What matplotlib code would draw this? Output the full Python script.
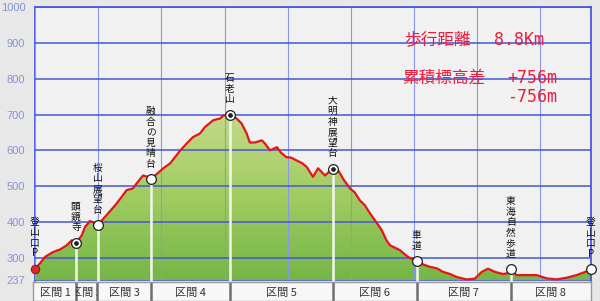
import numpy as np
import matplotlib.pyplot as plt
from matplotlib.patches import Rectangle
from matplotlib.colors import LinearSegmentedColormap

plt.rcParams['font.family'] = ['Noto Sans CJK JP', 'DejaVu Sans']

# profile: distance (km) / elevation (m)
dist = [0.00, 0.08, 0.16, 0.28, 0.40, 0.50, 0.58, 0.65, 0.74, 0.79, 0.87, 0.95, 0.99,
        1.13, 1.27, 1.37, 1.45, 1.55, 1.61, 1.71, 1.79, 1.83, 2.03, 2.14, 2.30, 2.40,
        2.50, 2.61, 2.69, 2.82, 2.93, 2.98, 3.08, 3.19, 3.27, 3.35, 3.40, 3.48, 3.59,
        3.64, 3.72, 3.83, 3.89, 3.98, 4.05, 4.14, 4.23, 4.30, 4.40, 4.48, 4.59, 4.71,
        4.80, 4.89, 4.99, 5.06, 5.14, 5.22, 5.30, 5.40, 5.49, 5.56, 5.62, 5.75, 5.78,
        5.90, 6.04, 6.14, 6.25, 6.36, 6.46, 6.57, 6.67, 6.83, 6.96, 7.07, 7.17, 7.28,
        7.41, 7.47, 7.53, 7.62, 7.78, 7.94, 8.10, 8.26, 8.42, 8.57, 8.71, 8.80]
elev = [270, 285, 303, 316, 324, 335, 349, 342, 363, 386, 403, 397, 391,
        419, 447, 470, 489, 494, 508, 530, 526, 519, 550, 564, 600, 619,
        637, 647, 665, 684, 689, 697, 700, 689, 675, 647, 622, 622, 628,
        619, 600, 609, 594, 581, 580, 572, 564, 554, 526, 550, 530, 549,
        544, 517, 493, 483, 461, 447, 425, 400, 377, 350, 335, 324, 321,
        303, 291, 282, 275, 271, 261, 255, 247, 240, 242, 261, 270, 261,
        255, 257, 268, 252, 252, 252, 243, 240, 245, 252, 261, 268]

# waypoints
wp_names = ['登山口P', '顕鏡寺', '桜山展望台', '融合の見晴台', '石老山',
            '大明神展望台', '車道', '東海自然歩道', '登山口P']
wp_dist = [0.00, 0.65, 0.99, 1.83, 3.08, 4.71, 6.04, 7.53, 8.80]
wp_elev = [270, 342, 391, 519, 700, 549, 291, 268, 268]
wp_kind = ['start', 'double', 'plain', 'plain', 'double', 'double', 'plain', 'plain', 'plain']

sections = ['区間 1', '区間 2', '区間 3', '区間 4', '区間 5', '区間 6', '区間 7', '区間 8']
yticks = [237, 300, 400, 500, 600, 700, 800, 900, 1000]

W, H = 600, 301
fig = plt.figure(figsize=(6, 3.01), dpi=100, facecolor='#e8e8e8')
ax = fig.add_axes([35 / W, 1 - 280.5 / H, 556 / W, (280.5 - 7) / H])
ax.set_facecolor('#f1f1f1')
ax.set_xlim(0, 8.8)
ax.set_ylim(237, 1000)

# gradient fill under the profile
poly = ax.fill_between(dist, elev, 237, color='none', lw=0)
grad = np.linspace(0, 1, 256).reshape(-1, 1)
cmap = LinearSegmentedColormap.from_list('g', ['#74b646', '#a2cc62', '#c4dc8a'])
im = ax.imshow(grad, cmap=cmap, aspect='auto', origin='lower',
               extent=[0, 8.8, 237, 720], zorder=1)
im.set_clip_path(poly.get_paths()[0], transform=ax.transData)

# grid
ax.set_axisbelow(False)
ax.set_yticks(yticks)
ax.set_xticks(np.arange(0, 9, 1))
ax.yaxis.grid(True, color='#4656d8', lw=1.1)
ax.xaxis.grid(True, color='#8a96e6', lw=0.8)
ax.tick_params(length=0, labelbottom=False, labelsize=8, labelcolor='#8494d4', pad=7)
for t in ax.get_yticklabels():
    t.set_family('Liberation Sans')
for s in ['left', 'right', 'top']:
    ax.spines[s].set_color('#3c4ee0')
    ax.spines[s].set_linewidth(1.2)
ax.spines['bottom'].set_visible(False)

# drop lines, profile, markers
for d, e in zip(wp_dist[1:-1], wp_elev[1:-1]):
    ax.plot([d, d], [237, e], color='#f4f6f0', lw=1.8, zorder=2.6)
ax.plot(dist, elev, color='#e8141c', lw=1.6, zorder=3, clip_on=False)
for d, e, k in zip(wp_dist, wp_elev, wp_kind):
    if k == 'start':
        ax.plot(d, e, 'o', ms=6, mfc='#e02828', mec='#7a2020', mew=0.8, zorder=5, clip_on=False)
    else:
        ax.plot(d, e, 'o', ms=7, mfc='white', mec='#202020', mew=0.9, zorder=5, clip_on=False)
        if k == 'double':
            ax.plot(d, e, 'o', ms=2.4, mfc='#202020', mec='#202020', zorder=6, clip_on=False)

# vertical waypoint labels, one character per row
for name, d, e in zip(wp_names, wp_dist, wp_elev):
    n = len(name)
    for i, ch in enumerate(name):
        ax.annotate(ch, (d, e), xytext=(0, 7.5 + (n - 1 - i) * 7.6),
                    textcoords='offset points', ha='center', va='bottom',
                    fontsize=7.0, color='#111111', zorder=7, annotation_clip=False)

# summary text
red = '#ec1c3c'
def px(x, y):
    return x / W, 1 - y / H
fig.text(*px(404, 40), '歩行距離', color=red, fontsize=12, va='center')
fig.text(*px(494, 40), '8.8Km', color=red, fontsize=12, va='center', family='DejaVu Sans Mono')
fig.text(*px(402, 78), '累積標高差', color=red, fontsize=12, va='center')
fig.text(*px(507, 78), '+756m', color=red, fontsize=12, va='center', family='DejaVu Sans Mono')
fig.text(*px(507, 97), '-756m', color=red, fontsize=12, va='center', family='DejaVu Sans Mono')

# section bar
bax = fig.add_axes([33 / W, 0, 558 / W, (H - 282) / H])
bax.set_xlim(-0.03, 8.8)
bax.set_ylim(0, 1)
bax.set_facecolor('#f7f7f7')
bax.set_xticks([])
bax.set_yticks([])
for s in bax.spines.values():
    s.set_color('#9a9a9a')
    s.set_linewidth(1)
for i, name in enumerate(sections):
    x0, x1 = wp_dist[i], wp_dist[i + 1]
    if i > 0:
        bax.axvline(x0, color='#6e6e6e', lw=1.8)
    t = bax.text((x0 + x1) / 2, 0.4, name, ha='center', va='center',
                 fontsize=8, color='#333333', clip_on=True)
    t.set_clip_path(Rectangle((x0, 0), x1 - x0, 1, transform=bax.transData))

fig.savefig('out.png', dpi=100, facecolor=fig.get_facecolor())
